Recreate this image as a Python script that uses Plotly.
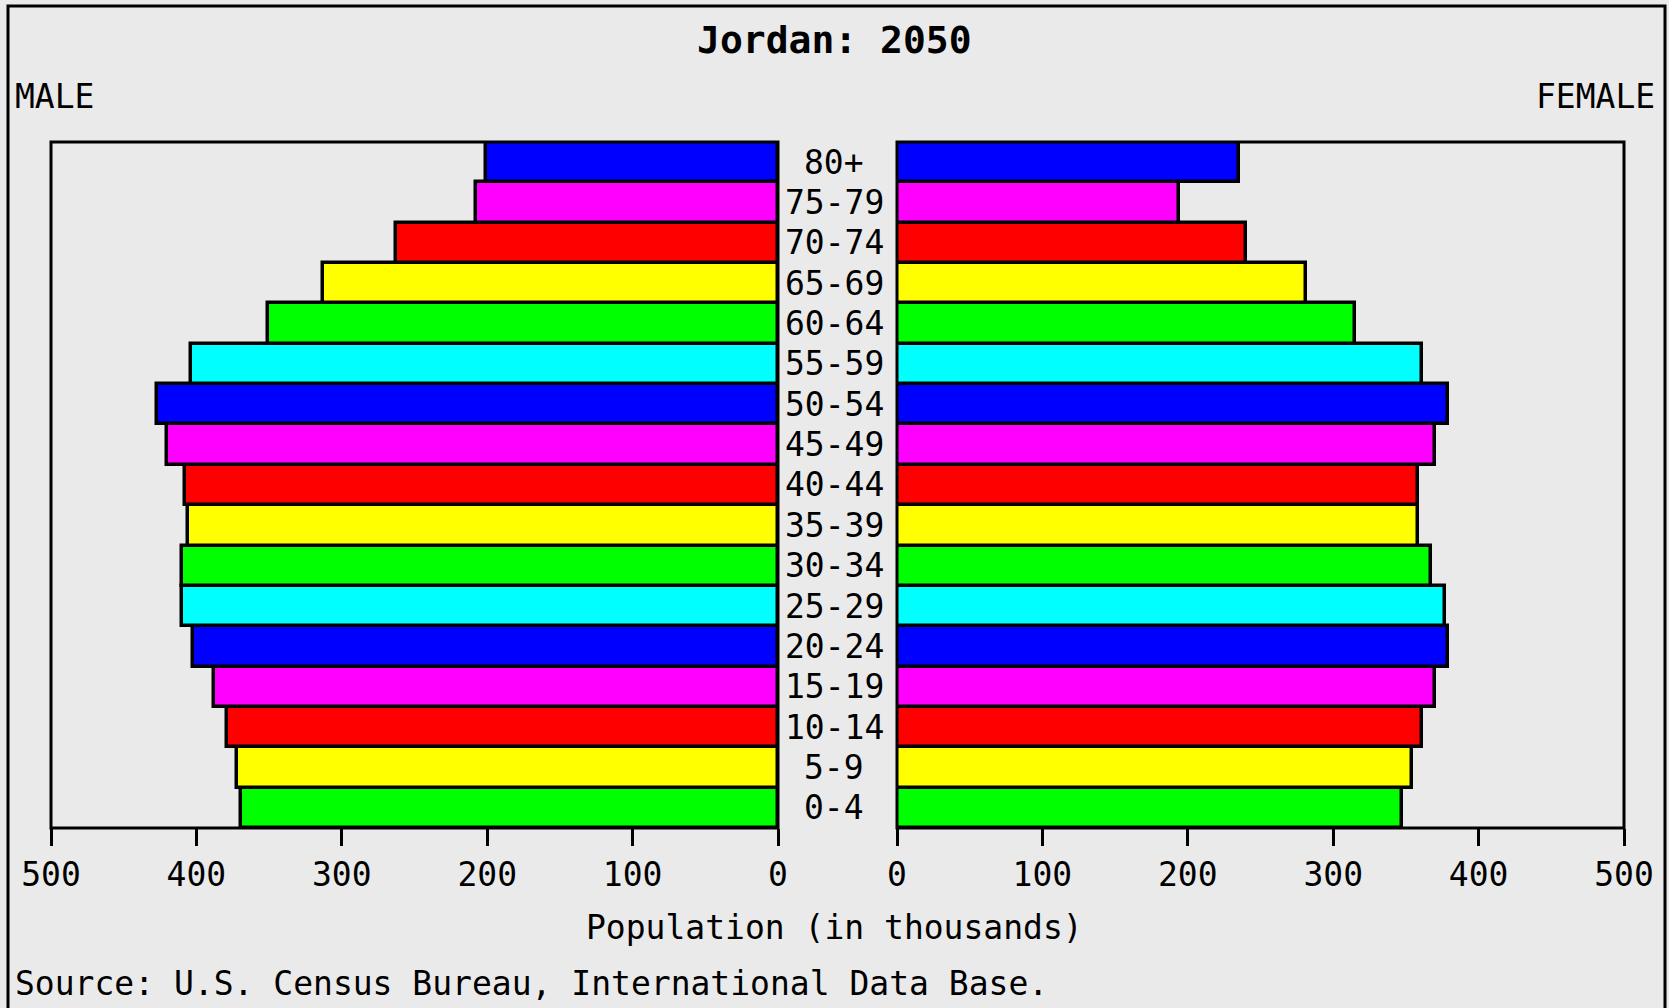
import plotly.graph_objects as go

# ---- data (thousands) ----
age_groups = ["0-4", "5-9", "10-14", "15-19", "20-24", "25-29", "30-34", "35-39",
              "40-44", "45-49", "50-54", "55-59", "60-64", "65-69", "70-74", "75-79", "80+"]
male = [369, 372, 379, 388, 402, 410, 410, 406, 408, 420, 427, 404, 351, 313, 263, 208, 201]
female = [347, 354, 361, 370, 379, 377, 367, 358, 358, 370, 379, 361, 315, 281, 240, 194, 235]
tick_values = [0, 100, 200, 300, 400, 500]
tick_labels = ["0", "100", "200", "300", "400", "500"]

title_text = "Jordan: 2050"
source_text = "Source: U.S. Census Bureau, International Data Base."
axis_title = "Population (in thousands)"

# ---- style ----
W, H = 1669, 1008
palette = ["#00FF00", "#FFFF00", "#FF0000", "#FF00FF", "#0000FF", "#00FFFF"]
colors = [palette[i % len(palette)] for i in range(len(age_groups))]
bg = "#EAEAEA"
FONT = "DejaVu Sans Mono"
FS = 33

def px(x):
    return x / W

def py(y):
    return 1 - y / H

left_x0, left_x1 = 51, 778
right_x0, right_x1 = 897, 1624
plot_top, plot_bot = 142, 828

fig = go.Figure()
fig.add_trace(go.Bar(
    y=age_groups, x=male, orientation="h", xaxis="x", yaxis="y",
    marker=dict(color=colors, line=dict(color="black", width=3.5)),
    showlegend=False, hoverinfo="x+y"))
fig.add_trace(go.Bar(
    y=age_groups, x=female, orientation="h", xaxis="x2", yaxis="y",
    marker=dict(color=colors, line=dict(color="black", width=3.5)),
    showlegend=False, hoverinfo="x+y"))

axis_common = dict(
    tickvals=tick_values, ticktext=tick_labels, ticks="outside", ticklen=17,
    tickwidth=3, tickcolor="black", showgrid=False, zeroline=False,
    showline=False, tickfont=dict(family=FONT, size=FS, color="black"),
    anchor="y", fixedrange=True, automargin=False,
)
fig.update_layout(
    template="none",
    width=W, height=H, margin=dict(l=0, r=0, t=0, b=0, pad=0, autoexpand=False),
    paper_bgcolor=bg, plot_bgcolor=bg, bargap=0, showlegend=False,
    xaxis=dict(domain=[px(left_x0), px(left_x1)], range=[500, 0], **axis_common),
    xaxis2=dict(domain=[px(right_x0), px(right_x1)], range=[0, 500], **axis_common),
    yaxis=dict(domain=[py(plot_bot), py(plot_top)], showticklabels=False,
               showgrid=False, zeroline=False, showline=False, ticks="",
               automargin=False,
               range=[-0.5, len(age_groups) - 0.5], fixedrange=True),
)

shapes = []
for x0, x1 in [(left_x0, left_x1), (right_x0, right_x1)]:
    shapes.append(dict(type="rect", xref="paper", yref="paper",
                       x0=px(x0), x1=px(x1), y0=py(plot_bot), y1=py(plot_top),
                       line=dict(color="black", width=3), fillcolor="rgba(0,0,0,0)",
                       layer="above"))
shapes.append(dict(type="rect", xref="paper", yref="paper",
                   x0=px(8), x1=px(1665), y0=-0.05, y1=py(6),
                   line=dict(color="black", width=3), fillcolor="rgba(0,0,0,0)",
                   layer="above"))
fig.update_layout(shapes=shapes)

ann = []
center_x = px(834)
for g in age_groups:
    ann.append(dict(x=center_x, y=g, xref="paper", yref="y", text=g,
                    showarrow=False, xanchor="center", yanchor="middle",
                    font=dict(family=FONT, size=FS, color="black")))
ann.append(dict(x=0.5, y=py(40), xref="paper", yref="paper", text="<b>%s</b>" % title_text,
                showarrow=False, xanchor="center", yanchor="middle",
                font=dict(family=FONT, size=38, color="black")))
ann.append(dict(x=px(13), y=py(97), xref="paper", yref="paper", text="MALE",
                showarrow=False, xanchor="left", yanchor="middle",
                font=dict(family=FONT, size=FS, color="black")))
ann.append(dict(x=px(1657), y=py(97), xref="paper", yref="paper", text="FEMALE",
                showarrow=False, xanchor="right", yanchor="middle",
                font=dict(family=FONT, size=FS, color="black")))
ann.append(dict(x=0.5, y=py(927), xref="paper", yref="paper", text=axis_title,
                showarrow=False, xanchor="center", yanchor="middle",
                font=dict(family=FONT, size=FS, color="black")))
ann.append(dict(x=px(13), y=py(983), xref="paper", yref="paper", text=source_text,
                showarrow=False, xanchor="left", yanchor="middle",
                font=dict(family=FONT, size=FS, color="black")))
fig.update_layout(annotations=ann)

fig.write_html("out.html", post_script="document.body.style.margin='0';",
               config={"displayModeBar": False})
